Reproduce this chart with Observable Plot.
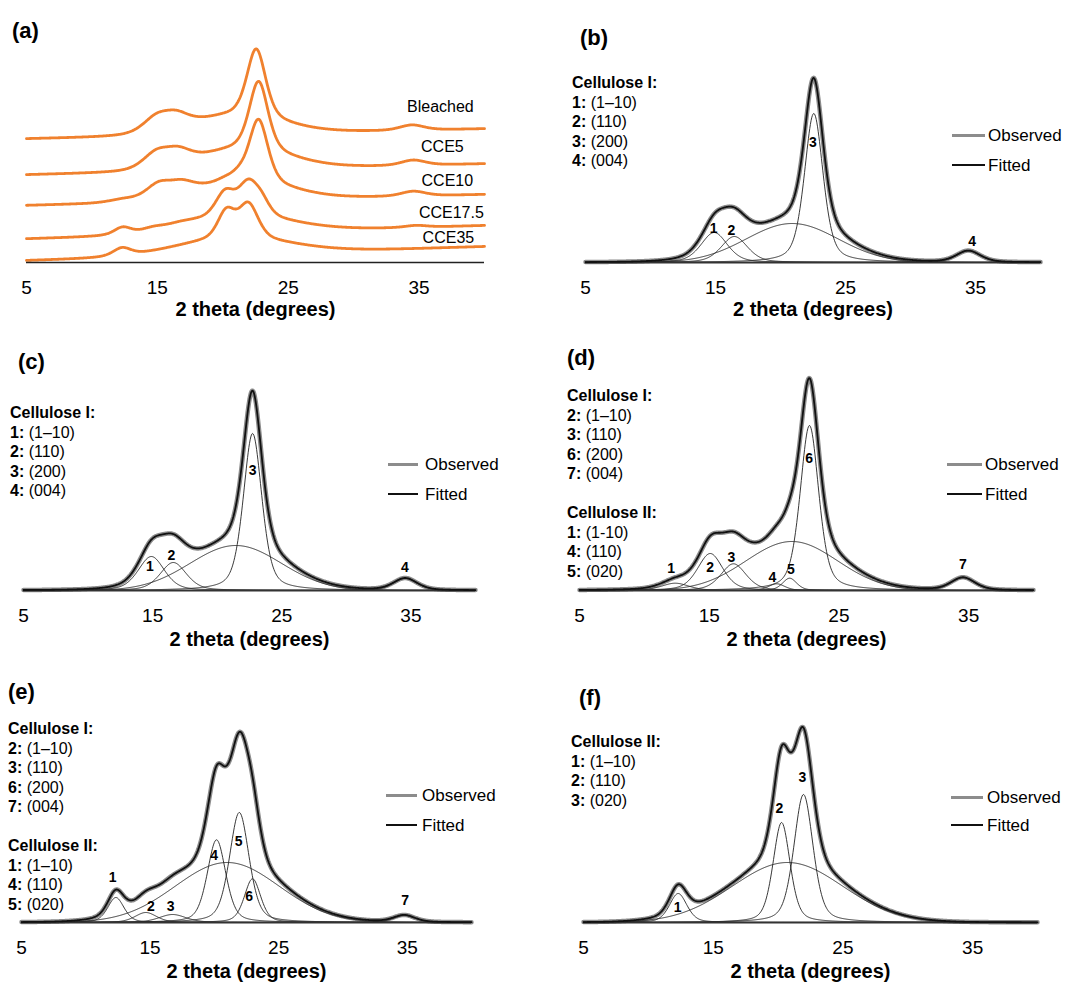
<!DOCTYPE html>
<html><head><meta charset="utf-8">
<script src="https://cdn.jsdelivr.net/npm/d3@7"></script>
<script src="https://cdn.jsdelivr.net/npm/@observablehq/plot@0.6"></script>
<style>
body{margin:0;background:#fff;}
#fig{position:relative;width:1067px;height:988px;font-family:"Liberation Sans",Arial,sans-serif;color:#000;overflow:hidden;}
.abs{position:absolute;white-space:nowrap;}
.plabel{font-weight:bold;font-size:22px;line-height:22px;}
.leg{font-size:16px;line-height:19.5px;}
.key{font-size:17px;line-height:17px;}
svg{position:absolute;}
</style></head><body><div id="fig"></div>
<script>
// ---------------- data ----------------
const xTicks = [5, 15, 25, 35];
const axisTitle = "2 theta (degrees)";

// Peak components (centre 2θ, height, FWHM, Lorentzian fraction) (b)-(f)
const bleachedCenters = [14.9, 16.45, 20.9, 22.56, 34.45];
const bleachedHeights = [30, 26, 39, 149, 11.5];
const bleachedFwhm    = [2.4, 2.4, 8.3, 1.7, 2.2];
const bleachedEta     = [0.4, 0.4, 0, 0.45, 0.4];

const cce5Centers = [14.9, 16.6, 21.44, 22.74, 34.56];
const cce5Heights = [34, 28, 45, 157, 12];
const cce5Fwhm    = [2.4, 2.4, 8.3, 1.7, 2.2];
const cce5Eta     = [0.4, 0.4, 0, 0.45, 0.4];

const cce10Centers = [12.38, 15.08, 16.87, 21.37, 20.2, 21.2, 22.73, 34.56];
const cce10Heights = [7.3, 37, 26.7, 49, 6.7, 12.3, 165, 12.7];
const cce10Fwhm    = [2.5, 2.3, 2.3, 8.3, 1.5, 1.3, 1.7, 2.2];
const cce10Eta     = [0.4, 0.4, 0.4, 0, 0.4, 0.4, 0.45, 0.4];

const cce175Centers = [12.34, 14.67, 16.75, 21.0, 20.17, 21.94, 22.97, 34.77];
const cce175Heights = [25, 10, 8, 60, 82.7, 110, 43.7, 7];
const cce175Fwhm    = [1.5, 2.0, 2.5, 9.5, 1.7, 1.8, 1.5, 2.0];
const cce175Eta     = [0.4, 0.4, 0.4, 0, 0.4, 0.4, 0.4, 0.4];

const cce35Centers = [12.3, 20.73, 20.27, 21.96];
const cce35Heights = [29, 60, 100, 128];
const cce35Fwhm    = [1.6, 10, 1.55, 1.75];
const cce35Eta     = [0.4, 0, 0.4, 0.4];

// Panel (a): stacked patterns
const sampleNames = ["Bleached", "CCE5", "CCE10", "CCE17.5", "CCE35"];
const stackScale  = [0.46, 0.44, 0.38, 0.28, 0.265];
const stackBase5  = [123.7, 87.7, 57, 23.7, 2];
const stackBase40 = [133.7, 98.7, 68, 37, 16];
const sampleLabelX = [36.63, 36.78, 37.16, 37.47, 37.24];
const sampleLabelY = [156, 116, 82, 50, 25];

// Peak number annotations
const bLabText = ["1","2","3","4"], bLabX = [14.85,16.23,22.5,34.75], bLabY = [34,32,120,21];
const cLabText = ["1","2","3","4"], cLabX = [14.78,16.46,22.74,34.54], cLabY = [24,35,120,23];
const dLabText = ["1","2","3","4","5","6","7"], dLabX = [12.07,15.08,16.7,19.88,21.3,22.71,34.56], dLabY = [21.7,23,32.7,13,20.7,131.7,26];
const eLabText = ["1","2","3","4","5","6","7"], eLabX = [12.08,15.06,16.6,19.99,21.89,22.71,34.83], eLabY = [45,16,16,67,81,26,22];
const fLabText = ["1","2","3"], fLabX = [12.25,20.11,21.88], fLabY = [15,113.7,144.7];

// Legend texts
const legB = [["Cellulose I:",""],["1:"," (1–10)"],["2:"," (110)"],["3:"," (200)"],["4:"," (004)"]];
const legC = legB;
const legD = [["Cellulose I:",""],["2:"," (1–10)"],["3:"," (110)"],["6:"," (200)"],["7:"," (004)"],null,
              ["Cellulose II:",""],["1:"," (1-10)"],["4:"," (110)"],["5:"," (020)"]];
const legE = [["Cellulose I:",""],["2:"," (1–10)"],["3:"," (110)"],["6:"," (200)"],["7:"," (004)"],null,
              ["Cellulose II:",""],["1:"," (1–10)"],["4:"," (110)"],["5:"," (020)"]];
const legF = [["Cellulose II:",""],["1:"," (1–10)"],["2:"," (110)"],["3:"," (020)"]];
const keyNames = ["Observed", "Fitted"];

// ---------------- helpers ----------------
const fig = document.getElementById("fig");
const FONT = '"Liberation Sans", Arial, sans-serif';
const grid = d3.range(5, 40.0001, 0.05);
function pv(x, c, h, f, e) {
  const u = ((x - c) / f) ** 2;
  return h * (e / (1 + 4 * u) + (1 - e) * Math.exp(-4 * Math.LN2 * u));
}
function comps(c, h, f, e) { return c.map((cc, i) => ({c: cc, h: h[i], f: f[i], e: e[i]})); }
function total(ks, x) { return d3.sum(ks, k => pv(x, k.c, k.h, k.f, k.e)); }

function addDiv(cls, left, top, html, extra) {
  const d = document.createElement("div");
  d.className = "abs " + cls;
  d.style.left = left + "px"; d.style.top = top + "px";
  d.innerHTML = html;
  if (extra) Object.assign(d.style, extra);
  fig.appendChild(d);
  return d;
}
function panelLabel(t, left, cy) { addDiv("plabel", left, cy - 11, t); }
function legend(lines, left, cy) {
  const html = lines.map(l => l ? `<b>${l[0]}</b>${l[1]}` : "&nbsp;").join("<br>");
  addDiv("leg", left, cy - 9.75, html);
}
function key(x1, x2, tx, yObs, yFit) {
  addDiv("", x1, yObs - 1.5, "", {width: (x2 - x1) + "px", height: "0", borderTop: "3px solid #8c8c8c"});
  addDiv("", x1, yFit - 1.25, "", {width: (x2 - x1) + "px", height: "0", borderTop: "2.5px solid #111"});
  addDiv("key", tx, yObs - 8.5, keyNames[0]);
  addDiv("key", tx, yFit - 8.5, keyNames[1]);
}

function basePlot(box, marks) {
  const svg = Plot.plot({
    width: box.w, height: box.h,
    marginLeft: box.ml, marginRight: box.mr, marginTop: 0, marginBottom: box.mb,
    x: {domain: [5, 40], label: null},
    y: {domain: [0, box.h - box.mb], axis: null},
    style: {fontFamily: FONT, background: "transparent", overflow: "visible", color: "#000"},
    marks: [
      Plot.axisX({ticks: xTicks, tickSize: 0, tickPadding: 18, fontSize: 19, label: null}),
      ...marks,
      Plot.text([axisTitle], {frameAnchor: "bottom", dy: box.td, fontWeight: "bold", fontSize: 20, fill: "#000"})
    ]
  });
  svg.style.left = box.x + "px";
  svg.style.top = box.y + "px";
  fig.appendChild(svg);
}

function fitPanel(box, ks, labText, labX, labY) {
  const compRows = ks.flatMap((k, i) => grid.map(x => ({k: i, x, y: pv(x, k.c, k.h, k.f, k.e)})));
  const sumRows = grid.map(x => ({x, y: total(ks, x)}));
  const labs = labText.map((t, i) => ({t, x: labX[i], y: labY[i]}));
  basePlot(box, [
    Plot.line(sumRows, {x: "x", y: "y", stroke: "#8c8c8c", strokeWidth: 4.5}),
    Plot.line(compRows, {x: "x", y: "y", z: "k", stroke: "#222", strokeWidth: 0.9}),
    Plot.ruleY([0], {stroke: "#333", strokeWidth: 1.8}),
    Plot.line(sumRows, {x: "x", y: "y", stroke: "#111", strokeWidth: 1.8}),
    Plot.text(labs, {x: "x", y: "y", text: "t", fontSize: 14, fontWeight: "bold", fill: "#000"})
  ]);
}

// ---------------- panels ----------------
const sampleComps = [
  comps(bleachedCenters, bleachedHeights, bleachedFwhm, bleachedEta),
  comps(cce5Centers, cce5Heights, cce5Fwhm, cce5Eta),
  comps(cce10Centers, cce10Heights, cce10Fwhm, cce10Eta),
  comps(cce175Centers, cce175Heights, cce175Fwhm, cce175Eta),
  comps(cce35Centers, cce35Heights, cce35Fwhm, cce35Eta)
];

// (a)
{
  const rows = sampleNames.flatMap((n, i) => grid.map(x => ({
    s: n, x,
    y: stackBase5[i] + (stackBase40[i] - stackBase5[i]) * (x - 5) / 35 + stackScale[i] * total(sampleComps[i], x)
  })));
  const labs = sampleNames.map((n, i) => ({t: n, x: sampleLabelX[i], y: sampleLabelY[i]}));
  basePlot({x: 0, y: 0, w: 520, h: 330, ml: 26, mr: 36, mb: 68, td: 53}, [
    Plot.line(rows, {x: "x", y: "y", z: "s", stroke: "#f0812e", strokeWidth: 2.8}),
    Plot.ruleY([0], {stroke: "#222", strokeWidth: 1.5}),
    Plot.text(labs, {x: "x", y: "y", text: "t", fontSize: 16, fill: "#000"})
  ]);
  panelLabel("(a)", 12, 31);
}
// (b)
fitPanel({x: 540, y: 0, w: 527, h: 330, ml: 45, mr: 27, mb: 68, td: 53}, sampleComps[0], bLabText, bLabX, bLabY);
panelLabel("(b)", 580, 38); legend(legB, 572, 83); key(952, 985, 988, 135, 165);
// (c)
fitPanel({x: 0, y: 330, w: 520, h: 330, ml: 23, mr: 45, mb: 70, td: 55}, sampleComps[1], cLabText, cLabX, cLabY);
panelLabel("(c)", 18, 362); legend(legC, 10, 413); key(388, 418, 425, 464, 494);
// (d)
fitPanel({x: 540, y: 330, w: 527, h: 330, ml: 39, mr: 34, mb: 70, td: 55}, sampleComps[2], dLabText, dLabX, dLabY);
panelLabel("(d)", 567, 358); legend(legD, 567, 396); key(947, 982, 985, 464, 494);
// (e)
fitPanel({x: 0, y: 660, w: 520, h: 328, ml: 21, mr: 49, mb: 66, td: 55}, sampleComps[3], eLabText, eLabX, eLabY);
panelLabel("(e)", 8, 692); legend(legE, 8, 729); key(386, 417, 422, 795, 825);
// (f)
fitPanel({x: 540, y: 660, w: 527, h: 328, ml: 43, mr: 30, mb: 66, td: 55}, sampleComps[4], fLabText, fLabX, fLabY);
panelLabel("(f)", 579, 698); legend(legF, 571, 742); key(951, 983, 987, 797, 825);
</script></body></html>
